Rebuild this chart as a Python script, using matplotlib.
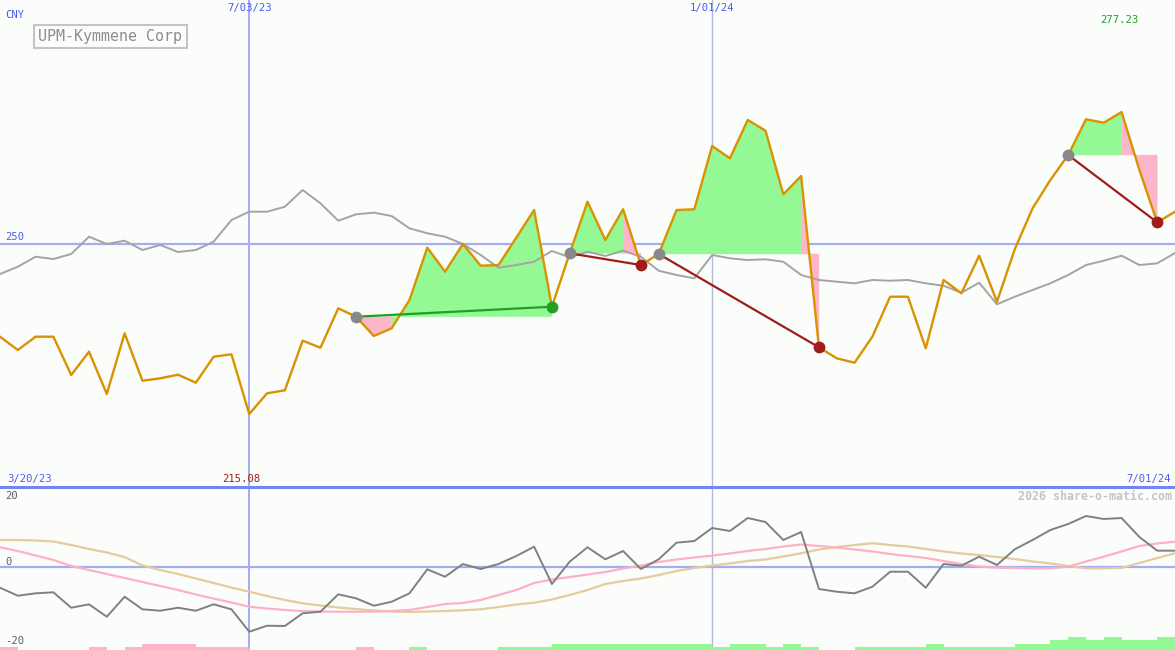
import matplotlib
matplotlib.use('Agg')
import matplotlib.pyplot as plt
import numpy as np

# ---------------- data ----------------
# weekly closes (index 0 = week of 3/27/23, index 66 = week of 7/01/24)
price = [230.99, 228.25, 230.99, 230.99, 223.11, 227.90, 219.20, 231.69, 221.93, 222.43,
         223.17, 221.52, 226.87, 227.37, 215.08, 219.34, 219.96, 230.17, 228.72, 236.83,
         235.10, 231.13, 232.72, 238.54, 249.31, 244.37, 250.07, 245.60, 245.74, 251.36,
         257.06, 237.16, 248.15, 258.77, 250.89, 257.21, 245.74, 248.01, 257.06, 257.21,
         270.24, 267.70, 275.59, 273.38, 260.29, 264.06, 228.81, 226.54, 225.64, 230.99,
         239.22, 239.22, 228.60, 242.66, 239.92, 247.66, 238.19, 248.98, 257.41, 263.24,
         268.38, 275.73, 275.03, 277.23, 265.30, 254.53, 256.70]

# comparison index (rescaled to price axis)
bench = [243.89, 245.39, 247.45, 246.98, 248.01, 251.57, 250.07, 250.75, 248.83, 249.86,
         248.42, 248.83, 250.54, 255.01, 256.71, 256.71, 257.74, 261.18, 258.44, 254.86,
         256.18, 256.51, 255.83, 253.30, 252.27, 251.57, 250.07, 247.80, 245.19, 245.74,
         246.42, 248.63, 247.33, 248.48, 247.60, 248.69, 247.45, 244.57, 243.69, 243.01,
         247.80, 247.12, 246.77, 246.92, 246.42, 243.69, 242.66, 242.31, 241.98, 242.66,
         242.51, 242.66, 241.98, 241.48, 240.04, 242.10, 237.66, 239.22, 240.60, 241.98,
         243.69, 245.74, 246.63, 247.66, 245.74, 246.09, 248.21]

# oscillator panel
osc = [-5.18, -7.18, -6.58, -6.33, -10.18, -9.33, -12.43, -7.43, -10.58, -10.93,
       -10.18, -10.93, -9.33, -10.58, -16.18, -14.68, -14.75, -11.58, -11.18, -6.83,
       -7.83, -9.68, -8.68, -6.58, -0.58, -2.43, 0.75, -0.50, 0.75, 2.75,
       5.08, -4.25, 1.33, 4.93, 1.93, 4.00, -0.50, 1.93, 6.08, 6.50,
       9.75, 9.00, 12.25, 11.25, 6.75, 8.75, -5.50, -6.18, -6.58, -4.93,
       -1.18, -1.18, -5.18, 0.75, 0.33, 2.58, 0.50, 4.43, 6.75, 9.25,
       10.75, 12.75, 12.00, 12.25, 7.50, 4.08, 4.08]

osc_fast = [4.93, 4.00, 2.88, 1.75, 0.25, -0.75, -1.75, -2.75, -3.75, -4.75,
            -5.75, -6.88, -7.88, -8.88, -9.93, -10.38, -10.75, -11.00, -11.13, -11.18,
            -11.18, -11.13, -11.00, -10.75, -10.00, -9.25, -9.00, -8.25, -7.00, -5.75,
            -4.00, -3.13, -2.50, -1.88, -1.25, -0.38, 0.38, 1.25, 1.88, 2.38,
            2.83, 3.38, 4.00, 4.50, 5.13, 5.63, 5.25, 4.88, 4.38, 3.88,
            3.25, 2.75, 2.25, 1.50, 0.75, 0.13, -0.18, -0.25, -0.33, -0.33,
            0.08, 1.38, 2.58, 3.88, 5.25, 5.88, 6.33]

osc_slow = [6.75, 6.75, 6.63, 6.38, 5.50, 4.50, 3.63, 2.50, 0.38, -0.75,
            -1.75, -2.88, -4.00, -5.13, -6.18, -7.25, -8.25, -9.08, -9.63, -10.13,
            -10.50, -10.88, -11.13, -11.25, -11.13, -11.00, -10.83, -10.58, -10.00, -9.38,
            -8.93, -8.13, -7.00, -5.75, -4.25, -3.50, -2.88, -2.00, -1.00, -0.25,
            0.38, 0.88, 1.50, 1.88, 2.63, 3.43, 4.38, 5.00, 5.50, 5.93,
            5.50, 5.13, 4.50, 3.88, 3.38, 3.00, 2.50, 2.00, 1.38, 0.88,
            0.25, -0.33, -0.33, -0.25, 1.00, 2.25, 3.43]

# signal bars (negative = pink, positive = green), one per week
signal = [-1, 0, 0, 0, 0, -1, 0, -1, -2, -2,
          -2, -1, -1, -1, 0, 0, 0, 0, 0, 0,
          -1, 0, 0, 1, 0, 0, 0, 0, 1, 1,
          1, 2, 2, 2, 2, 2, 2, 2, 2, 2,
          1, 2, 2, 1, 2, 1, 0, 0, 1, 1,
          1, 1, 2, 1, 1, 1, 1, 2, 2, 3,
          4, 3, 4, 3, 3, 4]

# trades (week indices)
trade_entry = [20, 32, 37, 60]
trade_exit = [31, 36, 46, 65]

# axis labels
date_marks = ['7/03/23', '1/01/24']
date_mark_idx = [14, 40]
range_start, range_end = '3/20/23', '7/01/24'
title = 'UPM-Kymmene Corp'
currency = 'CNY'
price_level = 250
osc_levels = [20, 0, -20]

# ---------------- drawing ----------------
W, H = 1175, 650
SEP = 487
bg = '#fbfdfb'
blue_line = '#a4acf2'
gold = '#d99200'
green_fill = '#94f894'
pink_fill = '#fdb6c9'
mono = 'DejaVu Sans Mono'

fig = plt.figure(figsize=(W / 100, H / 100), dpi=100)
fig.patch.set_facecolor(bg)
ax = fig.add_axes([0, (H - SEP) / H, 1, SEP / H])
ax2 = fig.add_axes([0, 0, 1, (H - SEP) / H])
for a in (ax, ax2):
    a.set_facecolor(bg)
    a.set_axis_off()
    a.set_xlim(0, 66)

x = np.arange(len(price))
ax.set_ylim(200.06, 300.28)
ax2.set_ylim(-20.75, 20)

# reference lines
ax.axhline(price_level, color=blue_line, lw=1.6, zorder=1)
ax.axvline(date_mark_idx[0], color=blue_line, lw=1.4, zorder=1)
ax2.axvline(date_mark_idx[0], color=blue_line, lw=1.4, zorder=1)
ax.axvline(date_mark_idx[1], color='#b4b8d6', lw=1.0, zorder=1)
ax2.axvline(date_mark_idx[1], color='#b4b8d6', lw=1.0, zorder=1)
ax2.axhline(0, color=blue_line, lw=1.6, zorder=1)

# trade fills, segment by segment
for e, q in zip(trade_entry, trade_exit):
    lvl = price[e]
    for i in range(e, q):
        col = green_fill if price[i + 1] >= lvl else pink_fill
        ax.fill([i, i, i + 1, i + 1], [lvl, price[i], price[i + 1], lvl],
                color=col, lw=0.3, ec=col, zorder=2)

ax.plot(x, bench, color='#a4a4a4', lw=1.4, zorder=3)
ax.plot(x, price, color=gold, lw=1.7, zorder=4)

for e, q in zip(trade_entry, trade_exit):
    win = price[q] > price[e]
    lc = '#22a022' if win else '#a01c1c'
    ax.plot([e, q], [price[e], price[q]], color=lc, lw=1.6, zorder=5)
    ax.plot([e], [price[e]], 'o', color='#888888', ms=8.5, zorder=6, mec='none')
    ax.plot([q], [price[q]], 'o', color=lc, ms=8.5, zorder=6, mec='none')

# lower panel
sig = np.array(signal, dtype=float)
bar_unit = 0.8
ax2.bar(np.arange(len(sig)), np.abs(sig) * bar_unit, width=1.0, align='edge',
        bottom=-20.75, color=[pink_fill if s < 0 else '#94f894' for s in sig],
        lw=0, zorder=1)
ax2.plot(x, osc_slow, color='#e4cc9e', lw=1.6, zorder=2)
ax2.plot(x, osc_fast, color='#fdb0c8', lw=1.6, zorder=3)
ax2.plot(x, osc, color='#808080', lw=1.4, zorder=4)

# separator
fig.add_artist(plt.Line2D([0, 1], [(H - SEP) / H] * 2, color='#7484f0', lw=2.2,
                          transform=fig.transFigure, zorder=10))

# ---------------- texts ----------------
def px(xp, yp):
    return xp / W, 1 - yp / H

lbl_blue = '#4a5cf0'
fs = 7.6
fig.text(*px(5, 15), currency, color=lbl_blue, fontsize=fs, family=mono, va='center')
for lab, idx in zip(date_marks, date_mark_idx):
    fig.text(*px(idx * W / 66, 8), lab, color=lbl_blue, fontsize=fs, family=mono,
             ha='center', va='center')
fig.text(*px(1119, 20), f'{max(price):.2f}', color='#22a022', fontsize=fs, family=mono,
         ha='center', va='center')
fig.text(*px(5, 237), str(price_level), color=lbl_blue, fontsize=fs, family=mono,
         va='center')
fig.text(*px(7, 479), range_start, color=lbl_blue, fontsize=fs, family=mono, va='center')
fig.text(*px(1171, 479), range_end, color=lbl_blue, fontsize=fs, family=mono,
         ha='right', va='center')
imin = int(np.argmin(price))
fig.text(*px(imin * W / 66 - 8, 479), f'{min(price):.2f}', color='#a01c1c', fontsize=fs,
         family=mono, ha='center', va='center')
fig.text(*px(1172, 496), '2026 share-o-matic.com', color='#c4c4c4', fontsize=8.4,
         family=mono, weight='bold', ha='right', va='center')
for lv, yp in zip(osc_levels, [496, 562, 641]):
    fig.text(*px(5, yp), str(lv), color='#606060', fontsize=fs, family=mono, va='center')

fig.text(*px(110.5, 36.5), title, color='#8c8c8c', fontsize=10.8, family=mono,
         ha='center', va='center',
         bbox=dict(boxstyle='square,pad=0.28', fc=bg, ec='#c4c4c4', lw=1.5))

fig.savefig('out.png', dpi=100, facecolor=bg)
